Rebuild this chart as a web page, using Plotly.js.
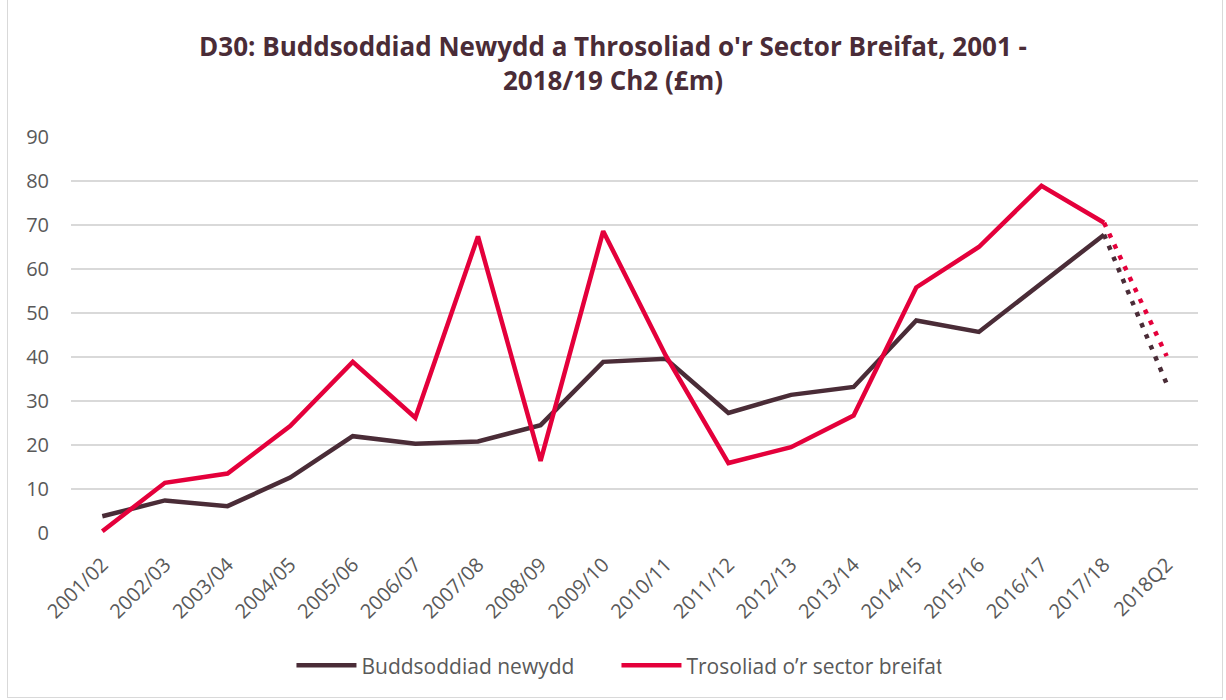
<!DOCTYPE html>
<html>
<head>
<meta charset="utf-8">
<script src="https://cdn.plot.ly/plotly-3.0.1.min.js"></script>
<style>
html,body{margin:0;padding:0;background:#fff;}
#frame{position:absolute;left:7px;top:-2px;width:1216px;height:700px;border:1px solid #d9d9d9;box-sizing:border-box;}
#chart{position:absolute;left:0;top:0;width:1226px;height:700px;}
</style>
</head>
<body>
<div id="frame"></div>
<div id="chart"></div>
<script>
const categories = ["2001/02","2002/03","2003/04","2004/05","2005/06","2006/07","2007/08","2008/09","2009/10","2010/11","2011/12","2012/13","2013/14","2014/15","2015/16","2016/17","2017/18","2018Q2"];
const newInvestment = [3.8,7.4,6.1,12.6,22.0,20.3,20.8,24.5,38.9,39.6,27.3,31.4,33.2,48.3,45.7,56.7,67.8,33.9];
const privateLeverage = [0.4,11.4,13.5,24.3,38.9,26.2,67.4,16.4,68.6,40.3,15.9,19.5,26.7,55.8,65.0,78.9,70.5,40.2];
const seriesNames = ["Buddsoddiad newydd","Trosoliad o\u2019r sector breifat"];
const colors = ["#4a2c37","#e4003b"];
const solidEnd = 16; // last actual annual value; final point is provisional (dotted)

const font = "'Open Sans', 'Noto Sans', sans-serif";
const data = [];
[newInvestment, privateLeverage].forEach((vals, i) => {
  data.push({
    x: categories.slice(0, solidEnd + 1), y: vals.slice(0, solidEnd + 1),
    type: "scatter", mode: "lines", name: seriesNames[i],
    line: {color: colors[i], width: 4.5}, hoverinfo: "x+y"
  });
});
[newInvestment, privateLeverage].forEach((vals, i) => {
  data.push({
    x: categories.slice(solidEnd), y: vals.slice(solidEnd),
    type: "scatter", mode: "lines", showlegend: false,
    line: {color: colors[i], width: 4.5, dash: "4.5px,7.5px"}
  });
});

const layout = {
  width: 1226, height: 700,
  paper_bgcolor: "rgba(0,0,0,0)", plot_bgcolor: "#fff",
  margin: {l: 71, r: 28, t: 137, b: 167},
  title: {
    text: "<b>D30: Buddsoddiad Newydd a Throsoliad o'r Sector Breifat, 2001 -<br>2018/19 Ch2 (£m)</b>",
    font: {family: font, size: 26, color: "#4a2c37"},
    x: 0.5, xanchor: "center", y: 0.92, yanchor: "middle"
  },
  xaxis: {
    type: "category", range: [-0.5, 17.5],
    tickangle: -45, tickfont: {family: font, size: 20, color: "#595959"},
    showgrid: false, zeroline: false, showline: false,
    ticks: "outside", ticklen: 11, tickcolor: "rgba(0,0,0,0)", fixedrange: true
  },
  yaxis: {
    range: [0, 90], dtick: 10, tick0: 0,
    tickfont: {family: font, size: 20, color: "#595959"},
    gridcolor: "#d9d9d9", gridwidth: 1.5, zeroline: false, showline: false, ticks: "", ticklen: 0,
    ticklabelstandoff: 21, fixedrange: true
  },
  legend: {
    orientation: "h", x: 0.484, xanchor: "center", y: -0.335, yanchor: "middle",
    font: {family: font, size: 21, color: "#595959"}, itemwidth: 60,
    entrywidth: 250, entrywidthmode: "pixels", tracegroupgap: 0
  },
  showlegend: true
};
Plotly.newPlot("chart", data, layout, {displayModeBar: false, staticPlot: true});
</script>
</body>
</html>
